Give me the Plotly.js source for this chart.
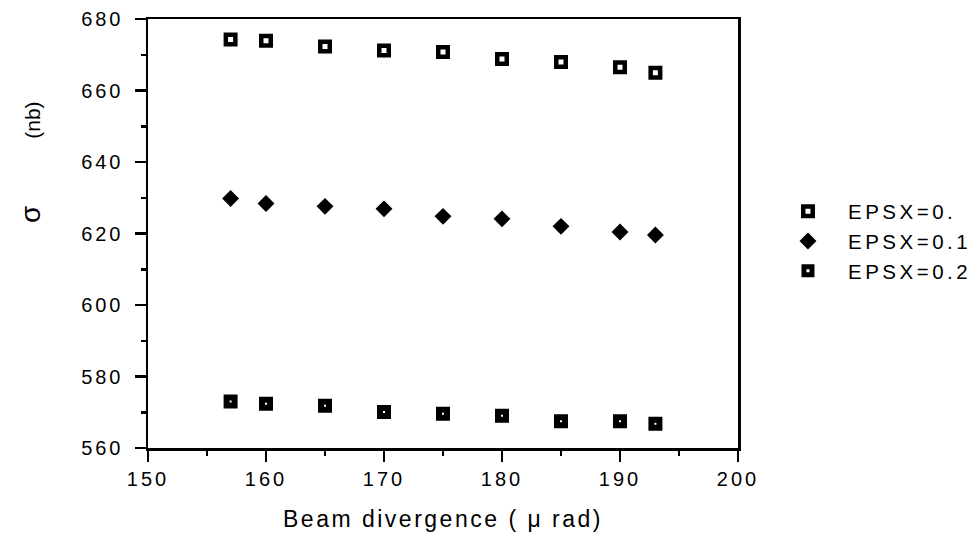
<!DOCTYPE html>
<html>
<head>
<meta charset="utf-8">
<script src="https://cdn.plot.ly/plotly-3.0.1.min.js"></script>
<style>
  html, body { margin: 0; padding: 0; background: #fff; }
  #chart { width: 978px; height: 537px; }
  .xtick text, .ytick text { letter-spacing: 3px; }
  .legendtext { letter-spacing: 3.5px; }
  .g-xtitle text { letter-spacing: 2.5px; }
</style>
</head>
<body>
<div id="chart"></div>
<script>
// Beam divergence (μ rad)
const divergence = [157, 160, 165, 170, 175, 180, 185, 190, 193];
// cross section σ (nb) for each EPSX value
const sigmaEps00 = [674.3, 673.9, 672.3, 671.2, 670.8, 668.8, 668.0, 666.5, 665.0];
const sigmaEps01 = [629.8, 628.4, 627.6, 626.9, 624.8, 624.1, 622.0, 620.4, 619.6];
const sigmaEps02 = [573.0, 572.4, 571.8, 570.1, 569.6, 569.0, 567.5, 567.5, 566.8];
const seriesNames = ['EPSX=0.', 'EPSX=0.1', 'EPSX=0.2'];
const xTitle = 'Beam divergence ( \u03bc rad)';
const yTitleSymbol = '\u03c3';
const yTitleUnit = '(nb)';

const FONT = 'Liberation Sans, Arial, Helvetica, sans-serif';

const traces = [
  {
    x: divergence, y: sigmaEps00, name: seriesNames[0],
    type: 'scatter', mode: 'markers',
    marker: { symbol: 'square-open', size: 9.5, color: '#000', line: { color: '#000', width: 4.5 } }
  },
  {
    x: divergence, y: sigmaEps01, name: seriesNames[1],
    type: 'scatter', mode: 'markers',
    marker: { symbol: 'diamond', size: 13, color: '#000', line: { width: 0 } }
  },
  {
    x: divergence, y: sigmaEps02, name: seriesNames[2],
    type: 'scatter', mode: 'markers',
    marker: { symbol: 'square-open', size: 8, color: '#000', line: { color: '#000', width: 6 } }
  }
];

const axisCommon = {
  showgrid: false, zeroline: false,
  showline: true, linecolor: '#000', linewidth: 2.5, mirror: true,
  ticks: 'outside', ticklen: 11, tickwidth: 2.5, tickcolor: '#000',
  tickfont: { family: FONT, size: 20, color: '#000' },
  automargin: false
};

const layout = {
  width: 978, height: 537,
  margin: { l: 148, r: 240, t: 19, b: 89, autoexpand: false },
  paper_bgcolor: '#fff', plot_bgcolor: '#fff',
  showlegend: true,
  font: { family: FONT, color: '#000' },
  xaxis: Object.assign({}, axisCommon, {
    range: [150, 200], dtick: 10, tick0: 150,
    minor: { dtick: 5, ticks: 'outside', ticklen: 5, tickwidth: 2.5, tickcolor: '#000', showgrid: false },
    ticklabelstandoff: 0,
    title: { text: xTitle, font: { family: FONT, size: 23, color: '#000' }, standoff: 23 }
  }),
  yaxis: Object.assign({}, axisCommon, {
    range: [560, 680], dtick: 20, tick0: 560,
    minor: { dtick: 10, ticks: 'outside', ticklen: 5, tickwidth: 2.5, tickcolor: '#000', showgrid: false },
    ticklabelstandoff: 7
  }),
  legend: {
    x: 1.0508, xanchor: 'left', y: 0.4825, yanchor: 'middle',
    font: { family: FONT, size: 20.5, color: '#000' },
    bgcolor: 'rgba(0,0,0,0)', borderwidth: 0,
    itemwidth: 70, tracegroupgap: 0
  },
  annotations: [
    { text: yTitleSymbol, xref: 'paper', yref: 'paper', x: -0.2, xanchor: 'center', yanchor: 'middle',
      y: 1 - (215 - 19) / 429, textangle: -90, showarrow: false, font: { family: FONT, size: 28, color: '#000' } },
    { text: yTitleUnit, xref: 'paper', yref: 'paper', x: -0.197, y: 1 - (120 - 19) / 429, xanchor: 'center', yanchor: 'middle',
      textangle: -90, showarrow: false, font: { family: FONT, size: 21, color: '#000' } }
  ]
};

Plotly.newPlot('chart', traces, layout, { displayModeBar: false, staticPlot: true });
</script>
</body>
</html>
